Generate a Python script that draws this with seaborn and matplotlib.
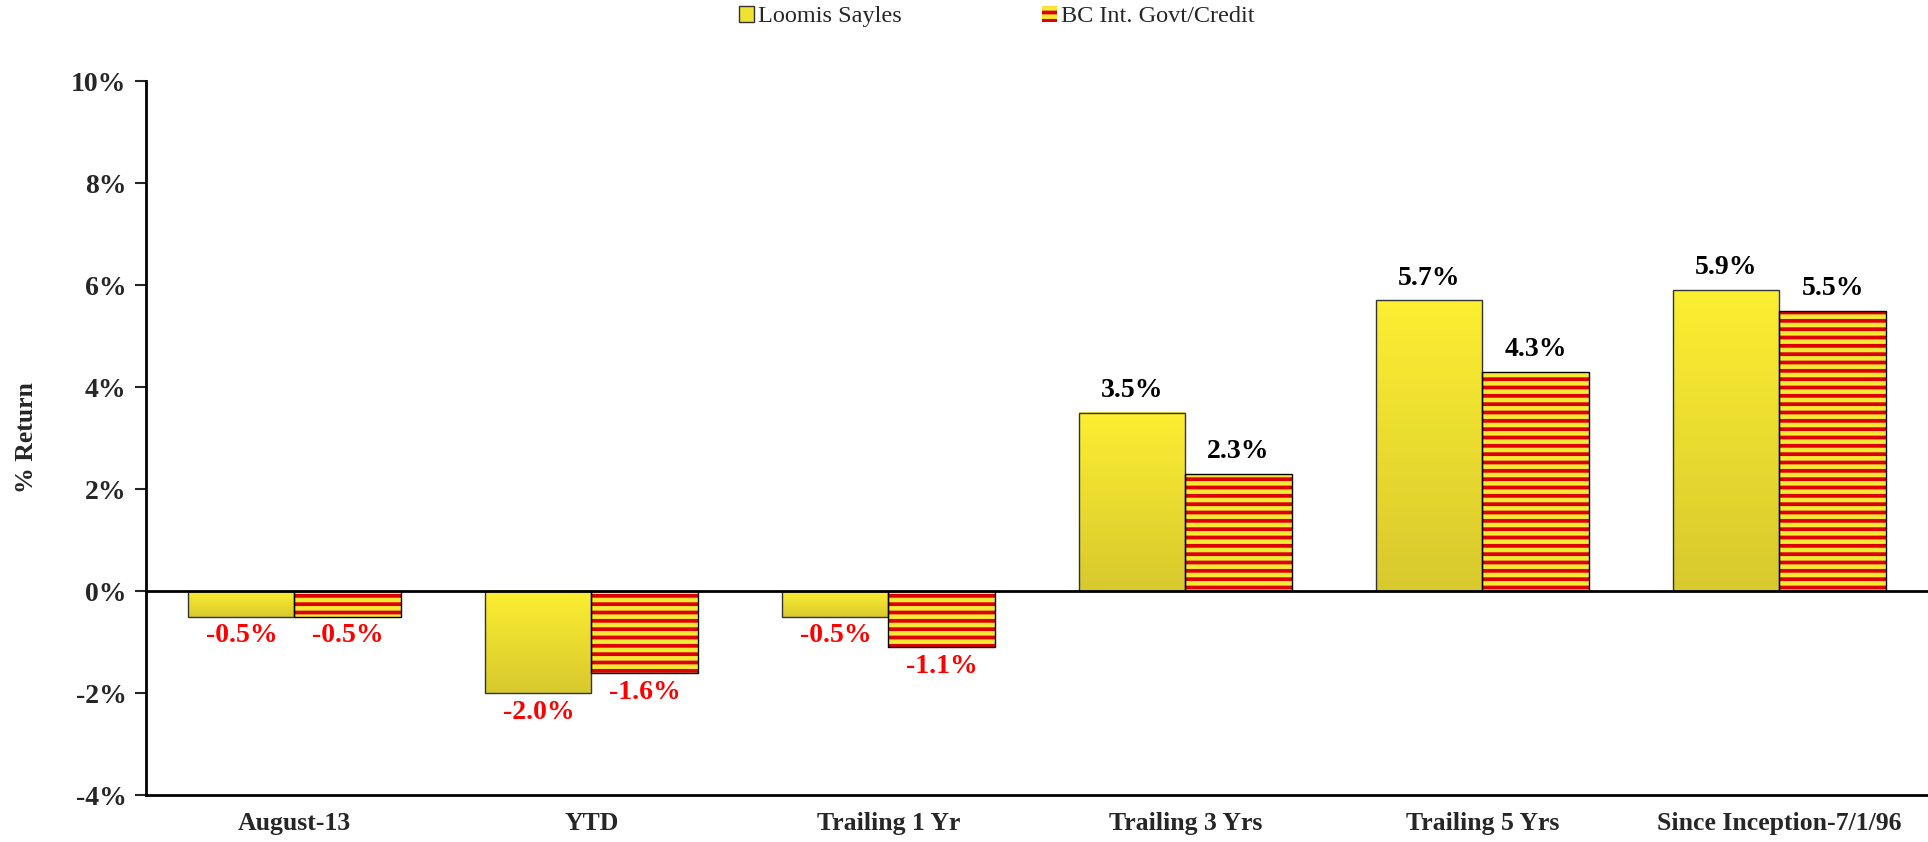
import numpy as np
import pandas as pd
import matplotlib.pyplot as plt
import seaborn as sns
from matplotlib.patches import Patch, Rectangle
from matplotlib.colors import LinearSegmentedColormap

periods = ["August-13", "YTD", "Trailing 1 Yr", "Trailing 3 Yrs",
           "Trailing 5 Yrs", "Since Inception-7/1/96"]
loomis = [-0.5, -2.0, -0.5, 3.5, 5.7, 5.9]
bc_govt = [-0.5, -1.6, -1.1, 2.3, 4.3, 5.5]
series_names = ["Loomis Sayles", "BC Int. Govt/Credit"]
y_ticks = [-4, -2, 0, 2, 4, 6, 8, 10]

df = pd.DataFrame({
    "Period": periods * 2,
    "Return": loomis + bc_govt,
    "Fund": [series_names[0]] * len(periods) + [series_names[1]] * len(periods),
})

sns.set_style("white")
plt.rcParams["font.family"] = ["Liberation Serif", "DejaVu Serif"]
plt.rcParams["hatch.linewidth"] = 2.7

yellow = "#f7e934"
red = "#dd0000"

fig = plt.figure(figsize=(19.28, 8.42), dpi=100)
ax = fig.add_axes([0.0757, 0.0558, 0.9243, 0.848])

sns.barplot(data=df, x="Period", y="Return", hue="Fund", order=periods,
            hue_order=series_names, palette=[yellow, yellow], width=0.715,
            gap=0, edgecolor="black", linewidth=1, legend=False, ax=ax)

ax.set_ylim(-4, 10)
xlim = ax.get_xlim()

# gradient fill for Loomis bars
grad = LinearSegmentedColormap.from_list("yel", ["#d8c92e", "#fcee31"])
for bar in ax.containers[0]:
    x0, y0 = bar.get_xy()
    w, h = bar.get_width(), bar.get_height()
    lo, hi = min(y0, y0 + h), max(y0, y0 + h)
    ax.imshow(np.linspace(1, 0, 50).reshape(-1, 1), cmap=grad, aspect="auto",
              extent=[x0, x0 + w, lo, hi], zorder=2)
    bar.set_facecolor("none")
    bar.set_edgecolor("#333333")
    bar.set_zorder(3)

# striped benchmark bars
for bar in ax.containers[1]:
    bar.set_facecolor(yellow)
    bar.set_edgecolor(red)
    bar.set_linewidth(0)
    bar.set_hatch("--")
    ax.add_patch(Rectangle(bar.get_xy(), bar.get_width(), bar.get_height(),
                           fill=False, edgecolor="black", linewidth=1, zorder=3))

ax.set_xlim(xlim)
ax.set_ylim(-4, 10)

# value labels
for cont in ax.containers:
    for bar in cont:
        v = bar.get_height()
        xc = bar.get_x() + bar.get_width() / 2
        if v >= 0:
            ax.annotate(f"{v:.1f}%", (xc, v), xytext=(0, 7), textcoords="offset points",
                        ha="center", va="bottom", fontsize=20, fontweight="bold", color="black")
        else:
            ax.annotate(f"{v:.1f}%", (xc, v), xytext=(0, -5), textcoords="offset points",
                        ha="center", va="top", fontsize=20, fontweight="bold", color="#ff0000")

ax.axhline(0, color="black", linewidth=2, zorder=4)

ax.set_yticks(y_ticks)
ax.set_yticklabels([f"{t}%" for t in y_ticks], fontsize=20, fontweight="bold")
ax.tick_params(axis="y", direction="out", length=8, width=1.5, left=True, pad=6)
ax.tick_params(axis="x", length=0, pad=12, labelsize=18.5)
for lab in ax.get_xticklabels():
    lab.set_fontweight("bold")

ax.set_xlabel("")
ax.set_ylabel("% Return", fontsize=18.5, fontweight="bold", labelpad=24)

for side in ["top", "right"]:
    ax.spines[side].set_visible(False)
ax.spines["left"].set_linewidth(2)
ax.spines["bottom"].set_linewidth(2)
ax.spines["left"].set_color("black")
ax.spines["bottom"].set_color("black")

handles = [
    Patch(facecolor="#f0e232", edgecolor="#333333", linewidth=1),
    Patch(facecolor=yellow, edgecolor=red, hatch="--", linewidth=0),
]
leg = fig.legend(handles, series_names, loc="center", bbox_to_anchor=(0.517, 0.98),
                 ncol=2, frameon=False, fontsize=17.5, handlelength=0.6, handleheight=0.6,
                 handletextpad=0.15, columnspacing=5.8)

fig.savefig("out.png", dpi=100)
